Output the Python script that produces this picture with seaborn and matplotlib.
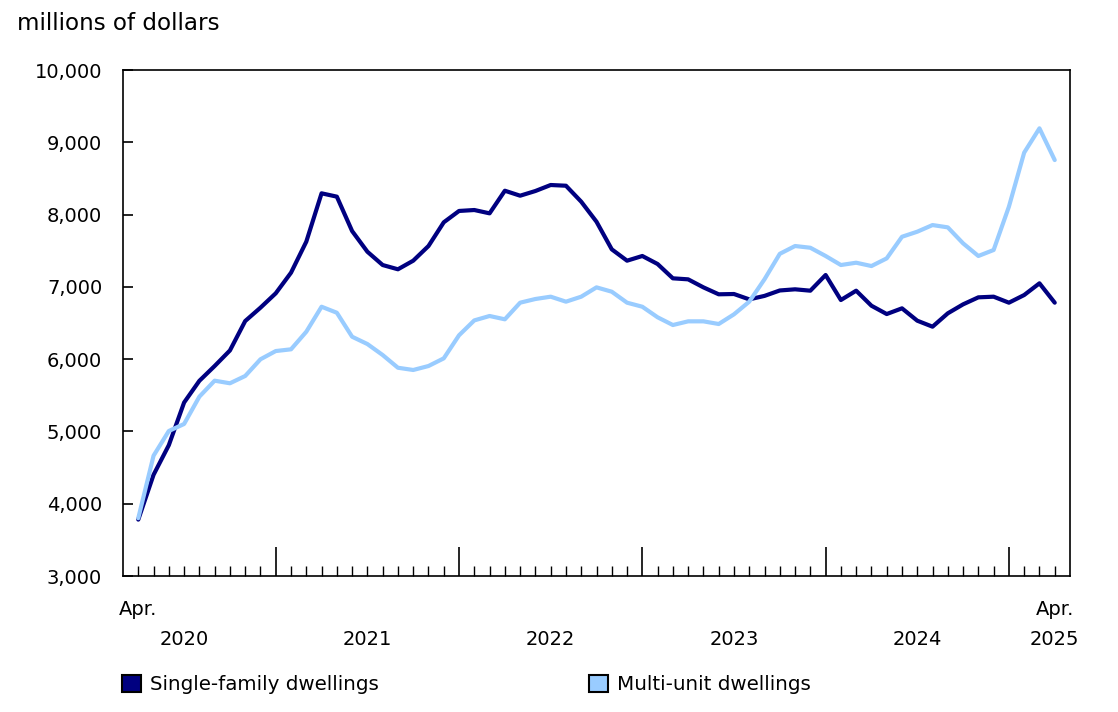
import numpy as np
import pandas as pd

import matplotlib.pyplot as plt
import matplotlib.transforms as mtransforms
from matplotlib.patches import Patch
from matplotlib.ticker import FuncFormatter
import seaborn as sns

# monthly values, Apr. 2020 to Apr. 2025 (millions of dollars)
single_family = [
    3780, 4400, 4810, 5400, 5700, 5905, 6120, 6527, 6712, 6911,
    7196, 7625, 8294, 8248, 7772, 7486, 7302, 7243, 7362, 7565,
    7893, 8050, 8063, 8017, 8330, 8261, 8326, 8409, 8399, 8178,
    7901, 7519, 7362, 7427, 7316, 7118, 7104, 6993, 6897, 6901,
    6827, 6875, 6950, 6966, 6947, 7164, 6818, 6947, 6739, 6624,
    6703, 6532, 6449, 6634, 6758, 6855, 6864, 6781, 6887, 7049,
    6781,
]
multi_unit = [
    3800, 4664, 5006, 5103, 5481, 5702, 5666, 5767, 5998, 6112,
    6136, 6379, 6725, 6642, 6310, 6209, 6057, 5881, 5850, 5905,
    6011, 6330, 6536, 6597, 6551, 6781, 6832, 6864, 6795, 6864,
    6993, 6933, 6781, 6725, 6579, 6472, 6523, 6523, 6486, 6620,
    6795, 7105, 7457, 7565, 7541, 7427, 7302, 7334, 7288, 7394,
    7693, 7763, 7855, 7823, 7602, 7427, 7510, 8109, 8857, 9193,
    8754,
]
series_names = ["Single-family dwellings", "Multi-unit dwellings"]
colors = ["#000080", "#99ccff"]
years = ["2020", "2021", "2022", "2023", "2024", "2025"]
year_label_pos = [3, 15, 27, 39, 51, 60]
january_idx = [9, 21, 33, 45, 57]
y_ticks = [3000, 4000, 5000, 6000, 7000, 8000, 9000, 10000]

months = np.arange(len(single_family))
df = pd.DataFrame({
    "month": np.concatenate([months, months]),
    "value": single_family + multi_unit,
    "series": [series_names[0]] * len(months) + [series_names[1]] * len(months),
})

sns.set_style("white")
plt.rcParams["font.family"] = ["DejaVu Sans"]
plt.rcParams["text.color"] = "black"
plt.rcParams["xtick.color"] = "black"
plt.rcParams["ytick.color"] = "black"
FS = 14

fig = plt.figure(figsize=(11.18, 7.12), dpi=100)
ax = fig.add_axes([123 / 1118, 1 - 576 / 712, (1070 - 123) / 1118, (576 - 70) / 712])

sns.lineplot(data=df, x="month", y="value", hue="series", palette=colors,
             linewidth=3, ax=ax, legend=False)

ax.set_xlim(-1, 61)
ax.set_ylim(3000, 10000)
ax.set_xlabel("")
ax.set_ylabel("")

for s in ax.spines.values():
    s.set_visible(True)
    s.set_color("black")
    s.set_linewidth(1.2)

ax.set_yticks(y_ticks)
ax.yaxis.set_major_formatter(FuncFormatter(lambda v, p: f"{int(v):,}"))
ax.tick_params(axis="y", direction="in", length=7.5, width=1.2, colors="black",
               labelsize=FS, pad=15, left=True)

ax.set_xticks(january_idx)
ax.set_xticks([m for m in months if m not in january_idx], minor=True)
ax.set_xticklabels([])
ax.tick_params(axis="x", which="major", direction="in", length=21, width=1.2,
               color="black", bottom=True)
ax.tick_params(axis="x", which="minor", direction="in", length=7.5, width=1.0,
               color="black", bottom=True)

trans = mtransforms.blended_transform_factory(ax.transData, fig.transFigure)
ax.text(0, 1 - 615 / 712, "Apr.", transform=trans, ha="center", va="baseline", fontsize=FS)
ax.text(60, 1 - 615 / 712, "Apr.", transform=trans, ha="center", va="baseline", fontsize=FS)
for pos, yr in zip(year_label_pos, years):
    ax.text(pos, 1 - 645 / 712, yr, transform=trans, ha="center", va="baseline", fontsize=FS)

fig.text(17 / 1118, 1 - 30 / 712, "millions of dollars", ha="left", va="baseline", fontsize=16.6)

handles = [Patch(facecolor=c, edgecolor="black", linewidth=1.5) for c in colors]
fig.legend(handles, series_names, loc="upper left", bbox_to_anchor=(122 / 1118, 1 - 675 / 712),
           ncol=2, frameon=False, fontsize=14.3, handlelength=0.95, handleheight=0.95,
           handletextpad=0.45, columnspacing=10.6, borderpad=0, borderaxespad=0)

fig.savefig("out.png", dpi=100)
